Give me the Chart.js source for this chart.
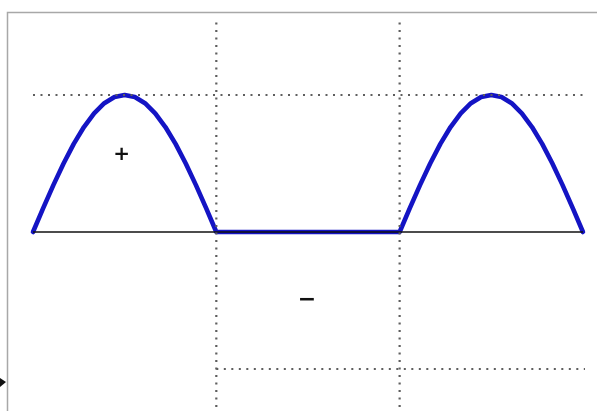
<!DOCTYPE html>
<html>
<head>
<meta charset="utf-8">
<script src="https://cdn.jsdelivr.net/npm/chart.js@4/dist/chart.umd.min.js"></script>
<style>
  html, body { margin: 0; padding: 0; background: #ffffff; }
  #wrap { width: 597px; height: 411px; }
</style>
</head>
<body>
<div id="wrap"><canvas id="c" width="597" height="411"></canvas></div>
<script>
// Half-wave rectified sine: phase angle (degrees) and normalised output voltage
const angles = [0, 10, 20, 30, 40, 50, 60, 70, 80, 90, 100, 110, 120, 130, 140, 150, 160, 170, 180,
                360, 370, 380, 390, 400, 410, 420, 430, 440, 450, 460, 470, 480, 490, 500, 510, 520, 530, 540];
const voltage = [0, 0.174, 0.342, 0.5, 0.643, 0.766, 0.866, 0.94, 0.985, 1, 0.985, 0.94, 0.866, 0.766, 0.643, 0.5, 0.342, 0.174, 0,
                 0, 0.174, 0.342, 0.5, 0.643, 0.766, 0.866, 0.94, 0.985, 1, 0.985, 0.94, 0.866, 0.766, 0.643, 0.5, 0.342, 0.174, 0];

// Reference guides
const span = [0, 540];          // extent of the time axis
const peakLevel = 1;            // positive peak guide
const negLevel = -1;            // negative peak guide (second half)
const negSpan = [180, 540];
const halfCycles = [180, 360];  // vertical guides at the half-cycle boundaries
const guideTop = 1.53;
const guideBottom = -1.4;

// Polarity signs: [angle, level, text]
const signs = [[87, 0.56, '+'], [269, -0.5, '\u2212']];

const pts = (xs, ys) => xs.map((x, i) => ({ x: x, y: ys[i] }));

const dotted = { borderColor: '#5e5e5e', borderWidth: 2.2, borderDash: [2, 5.5], pointRadius: 0, tension: 0 };

const datasets = [
  Object.assign({ data: [{ x: span[0], y: peakLevel }, { x: span[1] + 2, y: peakLevel }] }, dotted),
  Object.assign({ data: [{ x: negSpan[0], y: negLevel }, { x: negSpan[1] + 2, y: negLevel }] }, dotted),
];
halfCycles.forEach(a => {
  datasets.push(Object.assign({ data: [{ x: a, y: guideTop }, { x: a, y: guideBottom }] }, dotted));
});
datasets.push({
  data: [{ x: span[0], y: 0 }, { x: span[1], y: 0 }],
  borderColor: '#111111', borderWidth: 1.6, pointRadius: 0, tension: 0
});
datasets.push({
  data: pts(angles, voltage),
  borderColor: '#1414c4', borderWidth: 4.6, pointRadius: 0, tension: 0,
  borderJoinStyle: 'round', borderCapStyle: 'round'
});

// Frame lines and the polarity signs
const decorations = {
  id: 'decorations',
  beforeDatasetsDraw(chart) {
    const ctx = chart.ctx;
    ctx.save();
    ctx.strokeStyle = '#a8a8a8';
    ctx.lineWidth = 1.5;
    ctx.beginPath();
    ctx.moveTo(7.5, 411);
    ctx.lineTo(7.5, 12.5);
    ctx.lineTo(597, 12.5);
    ctx.stroke();
    ctx.fillStyle = '#111111';
    ctx.beginPath();
    ctx.moveTo(0, 378);
    ctx.lineTo(6, 382);
    ctx.lineTo(0, 387);
    ctx.closePath();
    ctx.fill();
    ctx.restore();
  },
  afterDatasetsDraw(chart) {
    const ctx = chart.ctx;
    const xs = chart.scales.x, ys = chart.scales.y;
    ctx.save();
    ctx.fillStyle = '#111111';
    ctx.textAlign = 'center';
    ctx.textBaseline = 'middle';
    signs.forEach(s => {
      ctx.font = (s[2] === '+' ? 'bold 20px' : 'bold 22px') + ' "DejaVu Sans", sans-serif';
      ctx.fillText(s[2], xs.getPixelForValue(s[0]), ys.getPixelForValue(s[1]));
    });
    ctx.restore();
  }
};

new Chart(document.getElementById('c'), {
  type: 'line',
  data: { datasets: datasets },
  options: {
    responsive: false,
    animation: false,
    layout: { padding: 0 },
    plugins: { legend: { display: false }, tooltip: { enabled: false } },
    scales: {
      x: { type: 'linear', display: false, min: -32.4, max: 553.8 },
      y: { type: 'linear', display: false, min: -1.3066, max: 1.6934 }
    }
  },
  plugins: [decorations]
});
</script>
</body>
</html>
